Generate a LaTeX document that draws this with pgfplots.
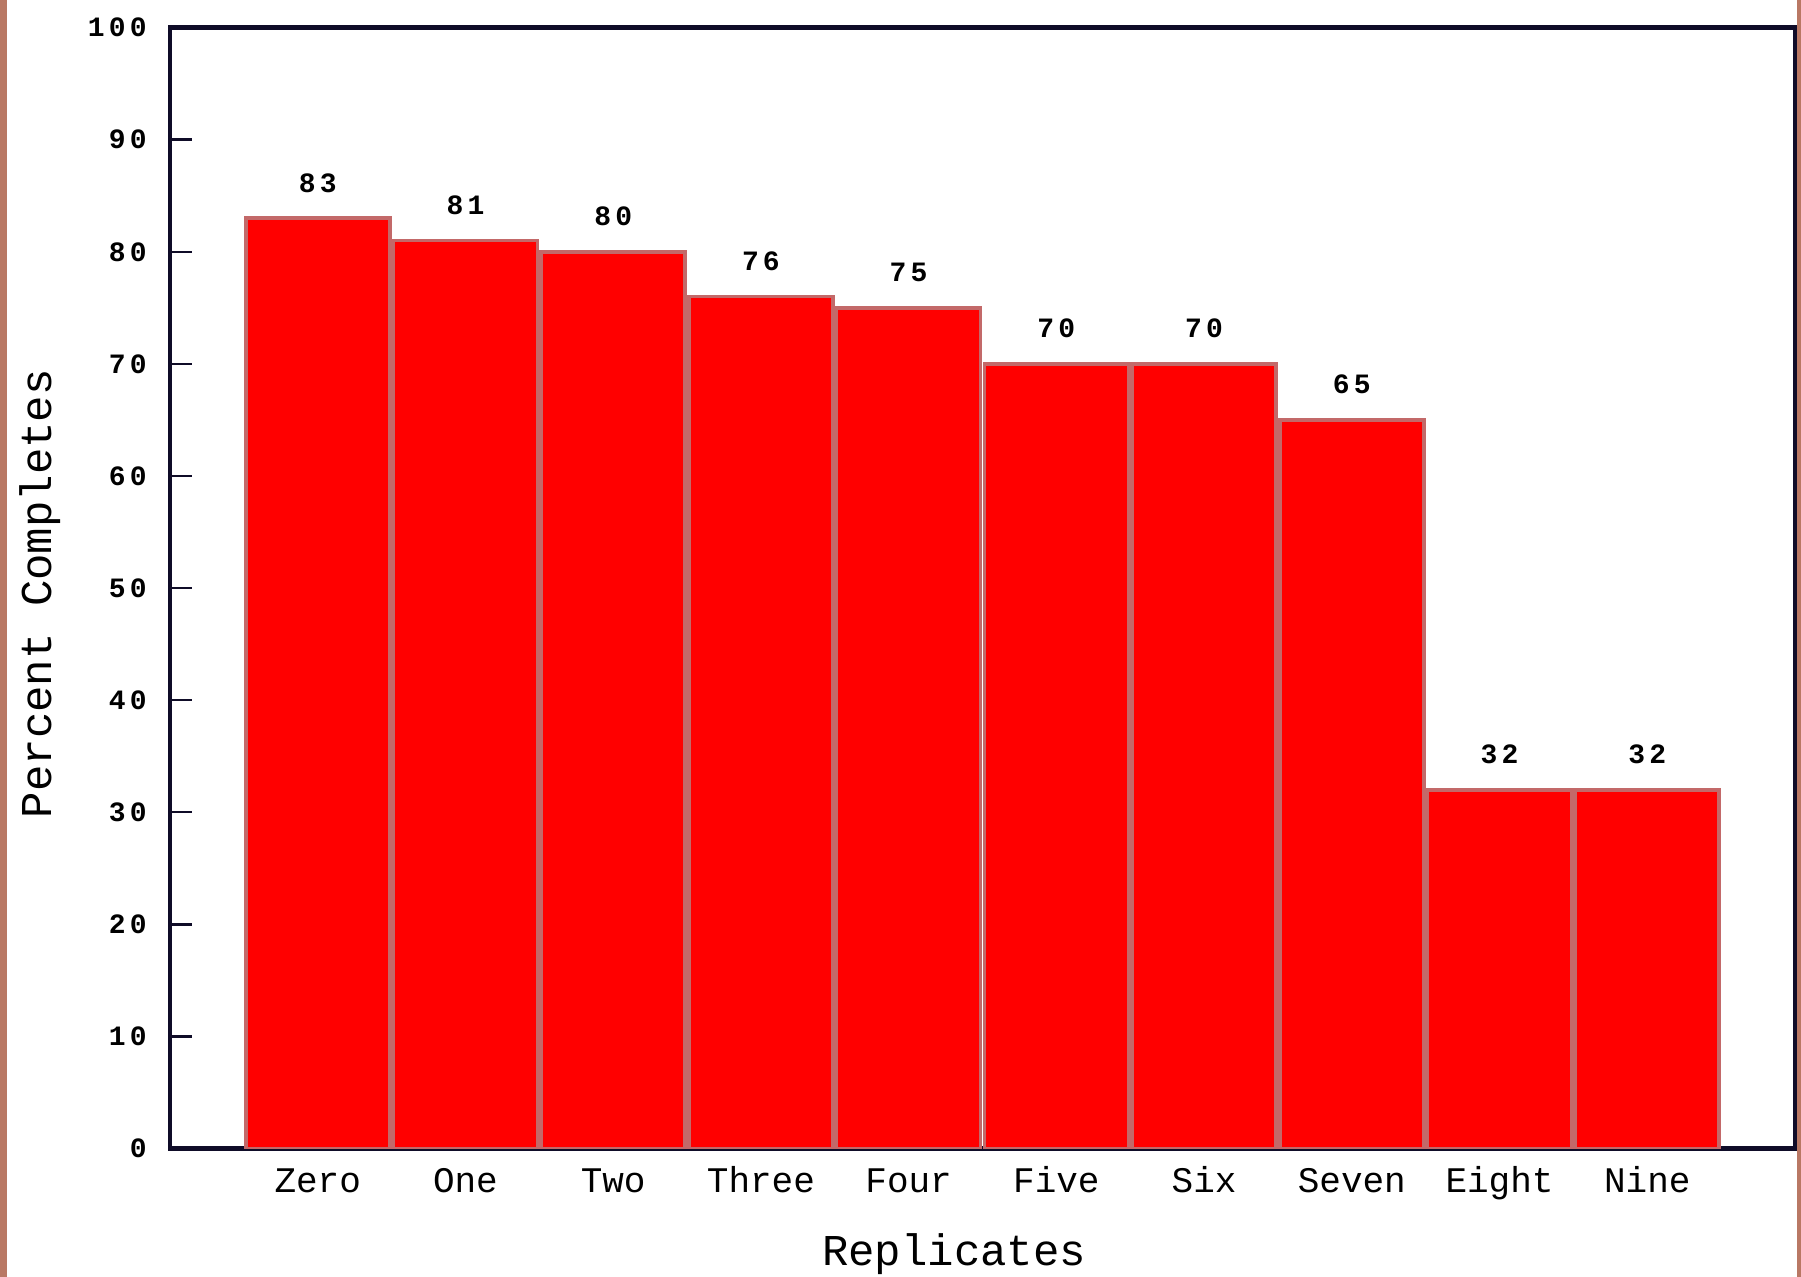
\documentclass[border=0pt]{standalone}
\usepackage{fontspec}
\usepackage{pgfplots}
\pgfplotsset{compat=1.18}
\newfontfamily\monofont{Liberation Mono}
\newfontfamily\tickfont[LetterSpace=15]{Liberation Mono}

\definecolor{barred}{RGB}{255,0,0}
\definecolor{baredge}{RGB}{195,105,105}
\definecolor{axisnavy}{RGB}{15,12,40}
\definecolor{edgebrown}{RGB}{185,120,100}

\begin{document}
\begin{tikzpicture}
\path[use as bounding box] (-85pt,-64.2pt) rectangle (815.5pt,574.3pt);
\begin{axis}[
  at={(0,0)}, anchor=south west,
  width=812.5pt, height=560.5pt, scale only axis,
  xmin=-1, xmax=10, ymin=0, ymax=100,
  ybar, bar width=0.975,
  ytick={0,10,...,100},
  xtick={0,...,9},
  xticklabels={Zero,One,Two,Three,Four,Five,Six,Seven,Eight,Nine},
  x tick style={draw=none},
  ytick pos=left, tick align=inside,
  major tick length=11pt,
  y tick style={axisnavy, line width=1.2pt},
  axis line style={axisnavy, line width=2.2pt},
  /pgf/number format/assume math mode=true,
  yticklabel style={font=\tickfont\bfseries\fontsize{14}{14}\selectfont, anchor=east, inner sep=0pt, xshift=-11.5pt},
  xticklabel style={font=\monofont\fontsize{18}{18}\selectfont, anchor=north, inner sep=0pt, yshift=-10pt, text height=12pt, text depth=4pt},
  xlabel={Replicates}, ylabel={Percent Completes},
  label style={font=\monofont\fontsize{22}{22}\selectfont},
  xlabel style={at={(axis description cs:0.4825,-0.094)}, anchor=center},
  ylabel style={at={(axis description cs:-0.08,0.495)}, anchor=center},
  nodes near coords,
  every node near coord/.append style={font=\tickfont\bfseries\fontsize{14}{14}\selectfont, anchor=south, inner sep=0pt, yshift=12pt, text=black},
]
\addplot[fill=barred, draw=baredge, line width=1.8pt] coordinates {
  (0,83) (1,81) (2,80) (3,76) (4,75) (5,70) (6,70) (7,65) (8,32) (9,32)
};
\end{axis}
\fill[edgebrown] (-85pt,-64.2pt) rectangle (-81.5pt,574.3pt);
\fill[edgebrown] (813.5pt,-64.2pt) rectangle (815.5pt,574.3pt);
\end{tikzpicture}
\end{document}
